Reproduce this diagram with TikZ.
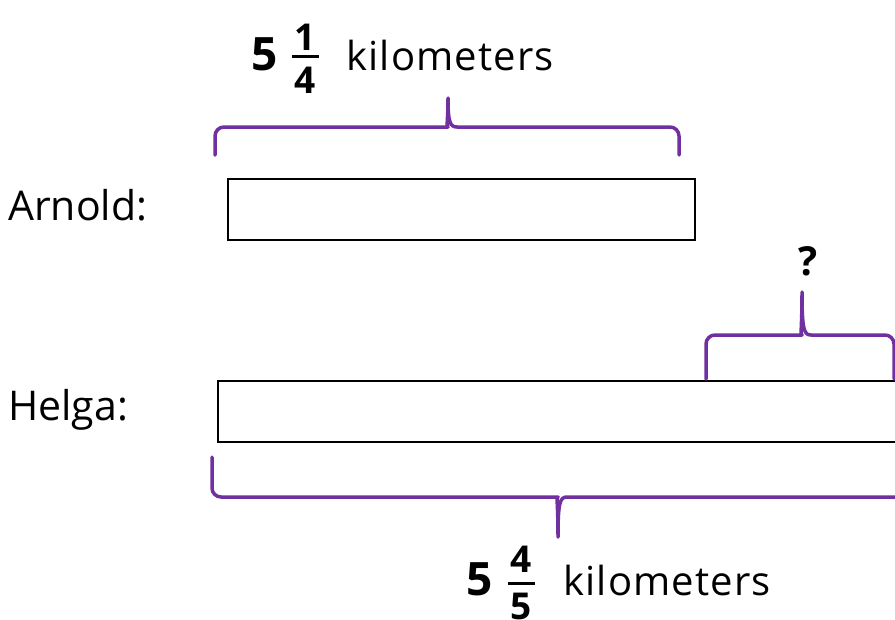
\documentclass[tikz,border=0pt]{standalone}
\usepackage{fontspec}
\setmainfont{Open Sans}
\begin{document}
\begin{tikzpicture}[x=1pt,y=-1pt,
  box/.style={draw=black,line width=2pt,minimum width=#1,minimum height=61pt,inner sep=0pt,anchor=north west},
  brace/.style={draw=bracepurple,line width=3.5pt,line cap=round,line join=round},
  lbl/.style={inner sep=0pt,anchor=base west,font=\fontsize{41}{44}\selectfont},
  unit/.style={inner sep=0pt,anchor=base west,font=\fontsize{40}{42}\selectfont\addfontfeatures{LetterSpace=3}},
  whole/.style={inner sep=0pt,anchor=base west,font=\fontsize{46}{48}\selectfont\bfseries},
  digit/.style={inner sep=0pt,anchor=base,font=\fontsize{37}{39}\selectfont\bfseries},
  fracrule/.style={line width=3pt}]
\definecolor{bracepurple}{HTML}{7030A0}
\useasboundingbox (0,0) rectangle (895,619);
\clip (0,0) rectangle (895,619);
% names
\node[lbl] (arnold) at (8,220) {Arnold:};
\node[lbl] (helga) at (8,420) {Helga:};
% boxes
\node[box=467pt] (abox) at (227,178) {};
\node[box=700pt] (hbox) at (217,380) {};
% top label
\node[whole] (w1) at (251,70) {5};
\node[digit] (n1) at (305,50) {1};
\node[digit] (d1) at (305,93) {4};
\coordinate (r1a) at (292,56);
\coordinate (r1b) at (319,56);
\draw[fracrule] (r1a) -- (r1b);
\node[unit] (km1) at (346,70) {kilometers};
% bottom label
\node[whole] (w2) at (466,595) {5};
\node[digit] (n2) at (521,572) {4};
\node[digit] (d2) at (521,619) {5};
\coordinate (r2a) at (508,583);
\coordinate (r2b) at (535,583);
\draw[fracrule] (r2a) -- (r2b);
\node[unit] (km2) at (563,595) {kilometers};
% question mark
\node[lbl,font=\fontsize{40}{42}\selectfont\bfseries] (q) at (798,275) {?};
% top brace
\draw[brace] (215,155) [rounded corners=9pt] |- (439,127) [sharp corners]
  .. controls (446,127) and (448,122) .. (448,98)
  .. controls (448,122) and (450,127) .. (457,127)
  [rounded corners=9pt] -| (679,155);
% question brace
\draw[brace] (706,379) [rounded corners=9pt] |- (793,335) [sharp corners]
  .. controls (800,335) and (802,330) .. (802,292)
  .. controls (802,330) and (804,335) .. (811,335)
  [rounded corners=9pt] -| (894,379);
% bottom brace
\draw[brace] (212,457) [rounded corners=9pt] |- (549,497) [sharp corners]
  .. controls (556,497) and (558,502) .. (558,537)
  .. controls (558,502) and (560,497) .. (567,497)
  -- (900,497);
\end{tikzpicture}
\end{document}
